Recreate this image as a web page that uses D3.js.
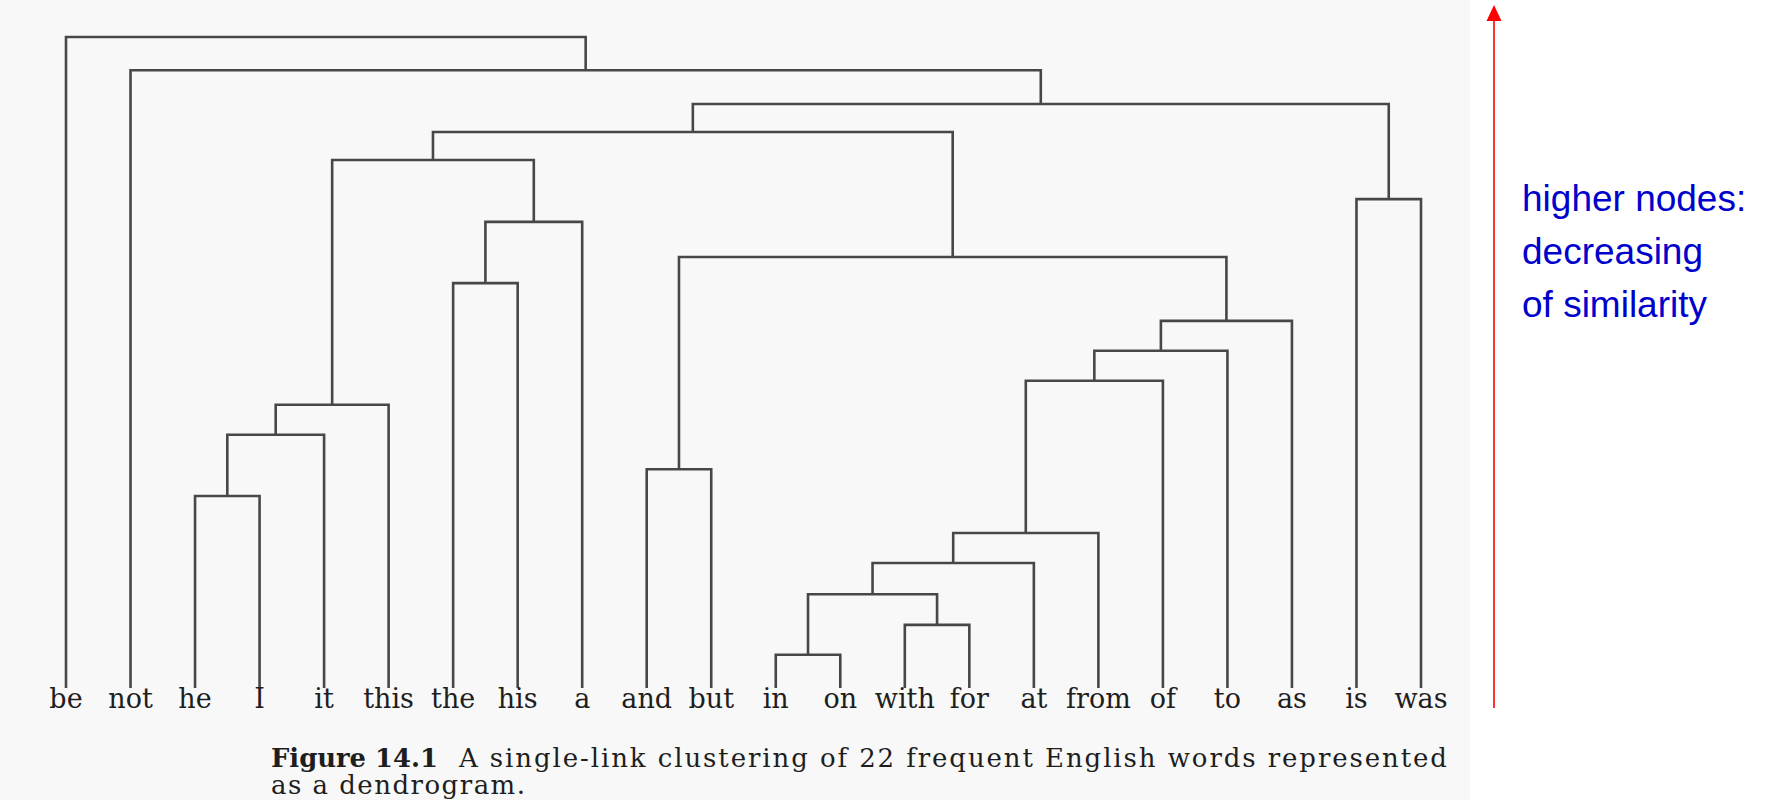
<!DOCTYPE html>
<html>
<head>
<meta charset="utf-8">
<script src="https://cdn.jsdelivr.net/npm/d3@7"></script>
<style>
  html, body { margin: 0; padding: 0; background: #ffffff; }
  svg { display: block; }
</style>
</head>
<body>
<div id="demo"></div>
<script>
	// leaves, in the order they appear under the tree
	var leaves = ["be", "not", "he", "I", "it", "this", "the", "his", "a", "and", "but",
		"in", "on", "with", "for", "at", "from", "of", "to", "as", "is", "was"];

	// each merge joins two items (leaf name or index of an earlier merge) at a height
	var mergeLeft   = ["he", 0,    1,      "the", 3,   2,    "in", "with", 6,    8,    9,      10,   11,   12,   "and", 14,   5,    "is",  16,   "not", "be"];
	var mergeRight  = ["I",  "it", "this", "his", "a", 4,    "on", "for",  7,    "at", "from", "of", "to", "as", "but", 13,   15,   "was", 17,   18,    19];
	var mergeHeight = [29.5, 38.9, 43.5,   62.2,  71.6, 81.1, 5.1, 9.7,    14.4, 19.2, 23.8,   47.2, 51.8, 56.4, 33.6,  66.2, 85.4, 75.1,  89.7, 94.9,  100];

	// caption and note
	var captionBold = "Figure 14.1";
	var captionRest = "A single-link clustering of 22 frequent English words represented";
	var captionLine2 = "as a dendrogram.";
	var noteLines = ["higher nodes:", "decreasing", "of similarity"];

	var W = 1769, H = 800;

	var svg = d3.select("#demo").append("svg")
		.attr("width", W)
		.attr("height", H);

	// the scanned page is a touch grey, right margin is white
	svg.append("rect")
		.attr("x", 0).attr("y", 0)
		.attr("width", 1470).attr("height", H)
		.attr("fill", "#f8f8f8");

	// build the nested tree from the merge list
	function item(ref) {
		if (typeof ref === "number") return nodes[ref];
		return { name: ref, height: 0 };
	}
	var nodes = [];
	mergeLeft.forEach(function(l, i) {
		nodes.push({
			name: "m" + i,
			height: mergeHeight[i],
			children: [item(l), item(mergeRight[i])]
		});
	});
	var root = d3.hierarchy(nodes[nodes.length - 1]);

	var x = d3.scalePoint().domain(leaves).range([66, 1421]);
	var y = d3.scaleLinear().domain([0, 100]).range([688, 37]);

	// leaves from the point scale, inner nodes sit at the middle of their children
	root.eachAfter(function(n) {
		n.px = n.children ? d3.mean(n.children, function(c) { return c.px; }) : x(n.data.name);
		n.py = y(n.data.height);
	});

	var inner = root.descendants().filter(function(n) { return n.children; });

	svg.append("g").selectAll(".link")
		.data(inner)
		.enter()
		.append("path")
		.attr("class", "link")
		.attr("d", function(n) {
			var a = n.children[0], b = n.children[1];
			return "M" + a.px + "," + a.py +
				"V" + n.py +
				"H" + b.px +
				"V" + b.py;
		})
		.attr("fill", "none")
		.attr("stroke", "#474747")
		.attr("stroke-width", 2.6)
		.attr("stroke-linejoin", "miter");

	// leaf labels
	svg.append("g").selectAll(".word")
		.data(leaves)
		.enter()
		.append("text")
		.attr("class", "word")
		.attr("x", function(d) { return x(d); })
		.attr("y", 708)
		.attr("text-anchor", "middle")
		.attr("font-family", "DejaVu Serif")
		.attr("font-size", 27)
		.attr("fill", "#1e1e1e")
		.text(function(d) { return d; });

	// caption
	svg.append("text")
		.attr("x", 271).attr("y", 767)
		.attr("font-family", "DejaVu Serif")
		.attr("font-size", 26)
		.attr("font-weight", "bold")
		.attr("fill", "#1e1e1e")
		.attr("textLength", 167)
		.attr("lengthAdjust", "spacingAndGlyphs")
		.text(captionBold);

	svg.append("text")
		.attr("x", 459).attr("y", 767)
		.attr("font-family", "DejaVu Serif")
		.attr("font-size", 26)
		.attr("fill", "#1e1e1e")
		.attr("textLength", 988)
		.attr("lengthAdjust", "spacing")
		.text(captionRest);

	svg.append("text")
		.attr("x", 271).attr("y", 794)
		.attr("font-family", "DejaVu Serif")
		.attr("font-size", 26)
		.attr("fill", "#1e1e1e")
		.attr("textLength", 254)
		.attr("lengthAdjust", "spacing")
		.text(captionLine2);

	// red arrow
	svg.append("line")
		.attr("x1", 1494).attr("y1", 708)
		.attr("x2", 1494).attr("y2", 18)
		.attr("stroke", "#ff0000")
		.attr("stroke-width", 1.6);

	svg.append("path")
		.attr("d", "M1494,5 L1486.5,21 L1501.5,21 Z")
		.attr("fill", "#ff0000");

	// blue note
	svg.append("g").selectAll(".note")
		.data(noteLines)
		.enter()
		.append("text")
		.attr("class", "note")
		.attr("x", 1522)
		.attr("y", function(d, i) { return 211 + i * 53; })
		.attr("font-family", "Liberation Sans")
		.attr("font-size", 37)
		.attr("fill", "#0000cc")
		.text(function(d) { return d; });
</script>
</body>
</html>
